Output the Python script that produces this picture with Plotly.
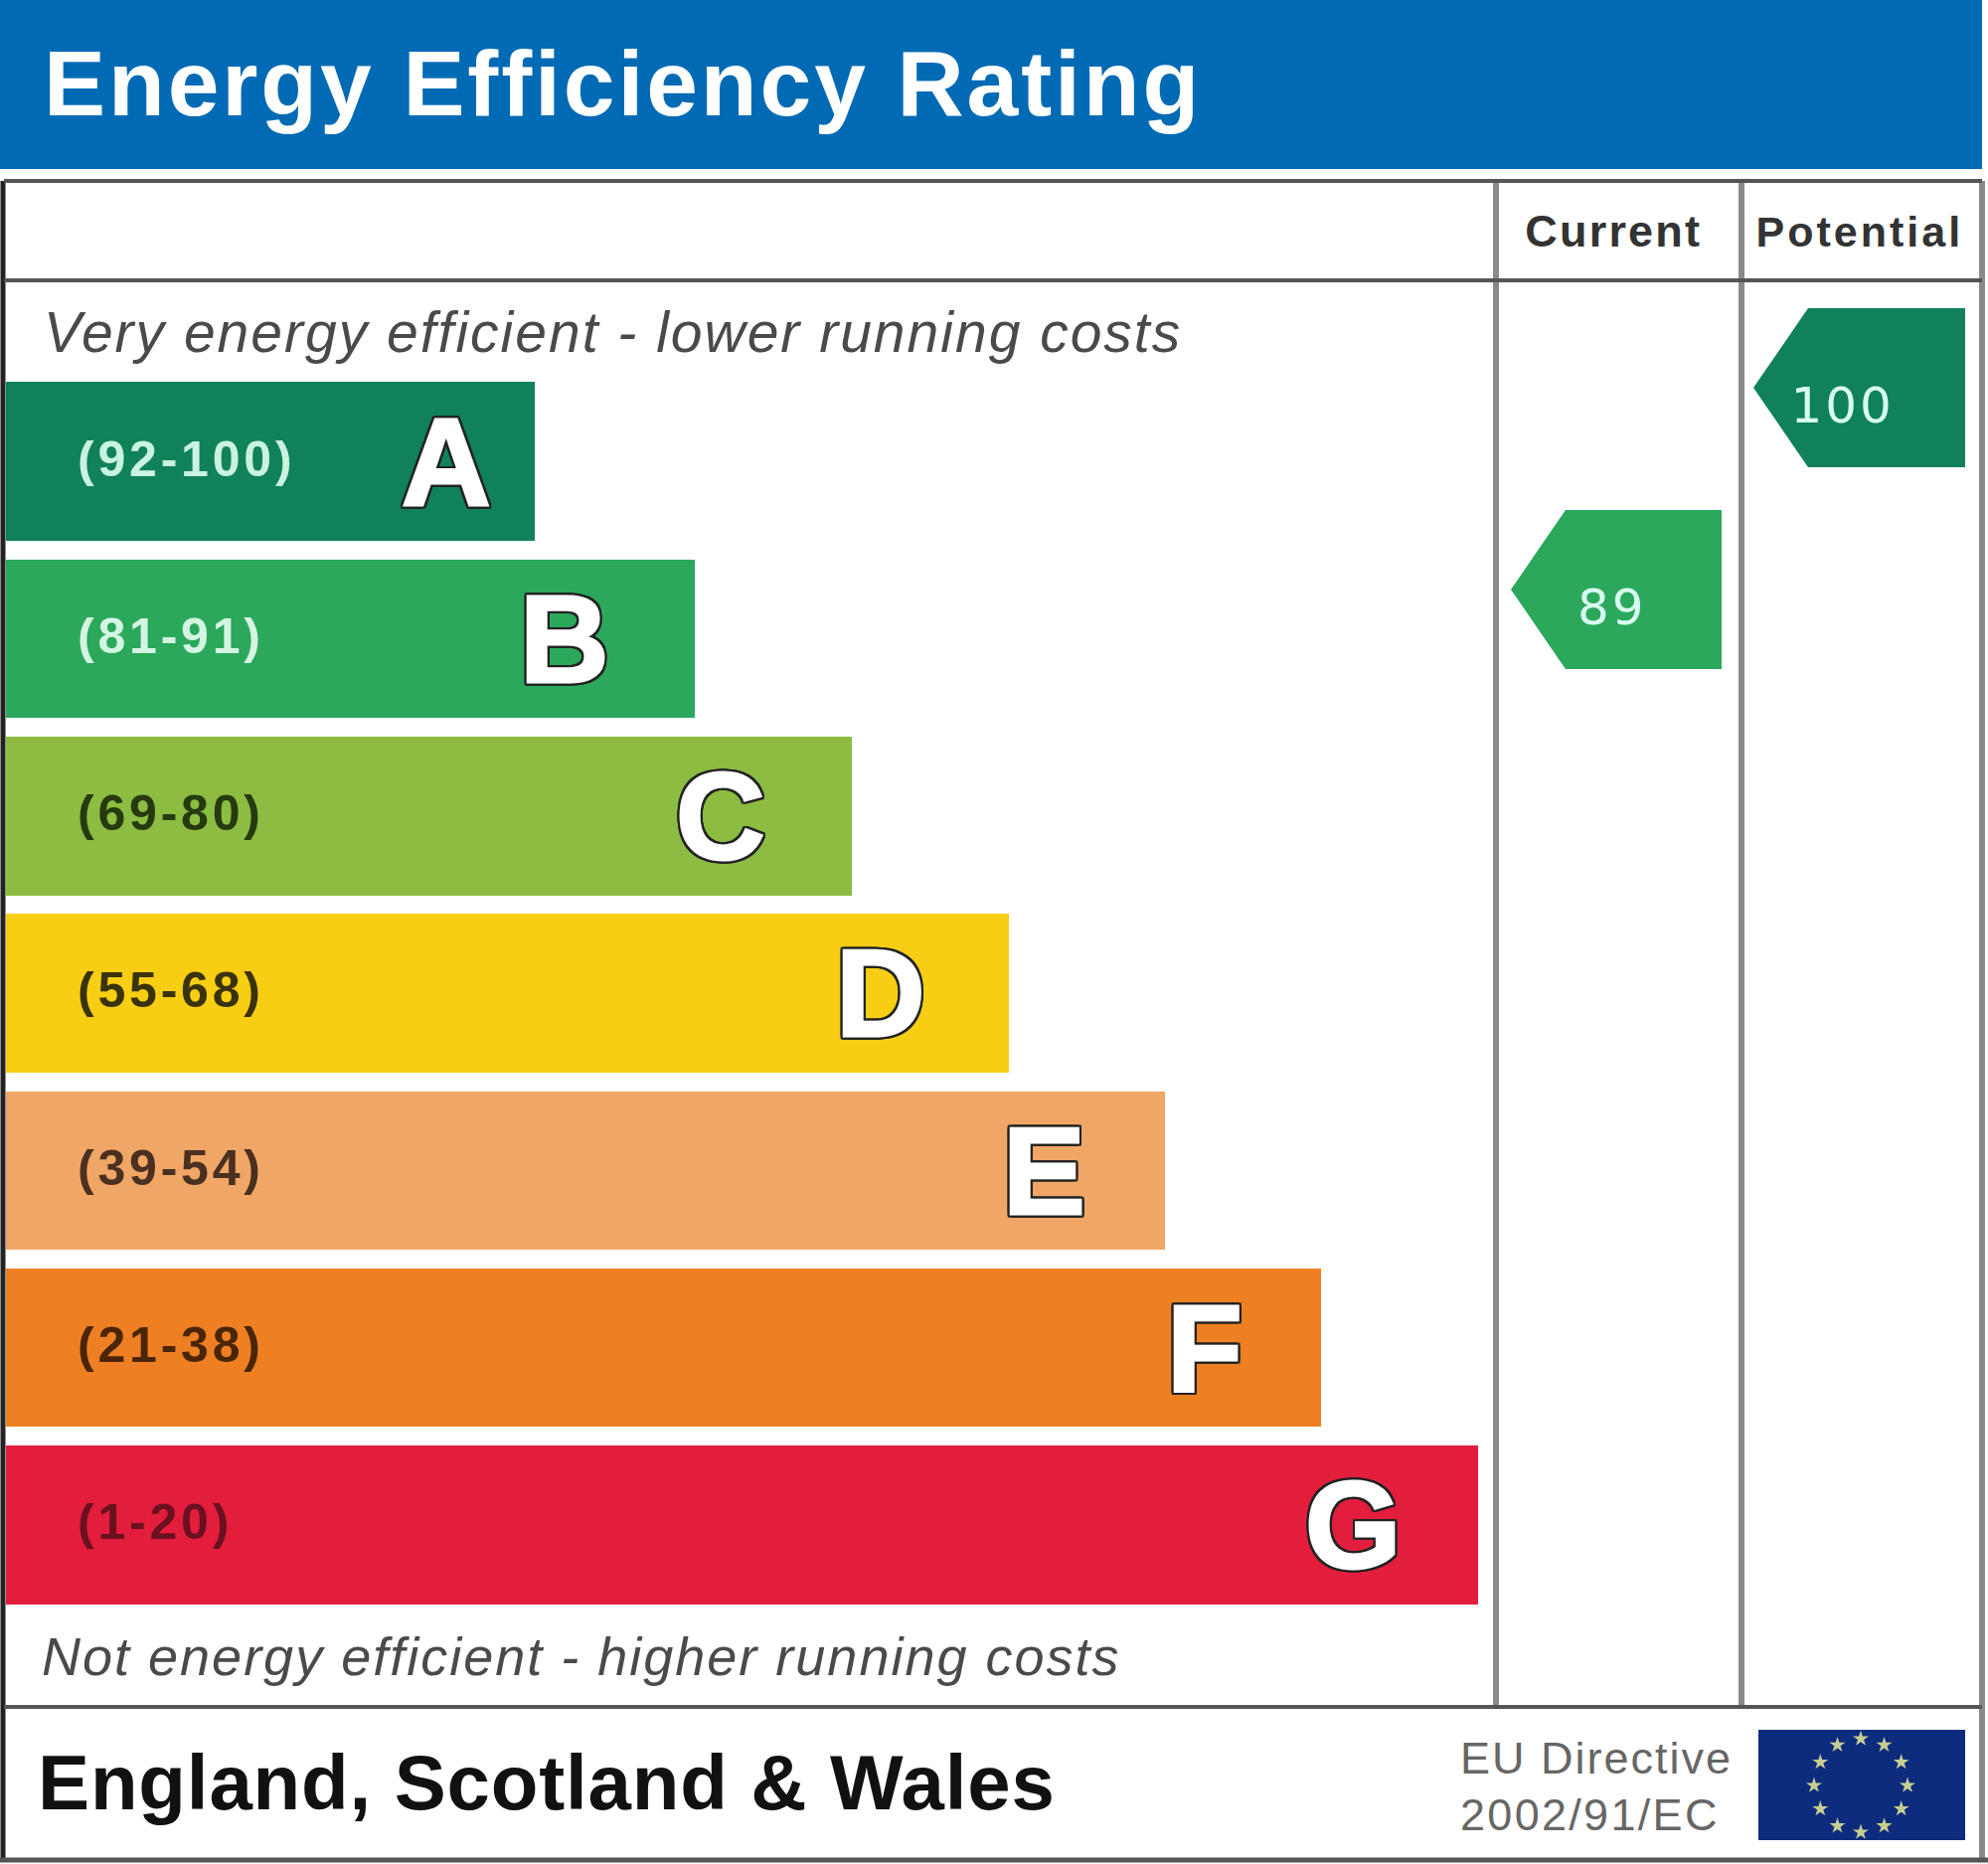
import json
import math
import plotly.graph_objects as go

W, H = 2000, 1875
FONT = "Liberation Sans"

bands = ["A", "B", "C", "D", "E", "F", "G"]
ranges = ["(92-100)", "(81-91)", "(69-80)", "(55-68)", "(39-54)", "(21-38)", "(1-20)"]
bar_lengths = [532, 693, 851, 1009, 1166, 1323, 1481]
bar_colors = ["#10815A", "#2BA85C", "#8CBC42", "#F7CE14", "#F0A666", "#EE8023", "#E21E3C"]
range_colors = ["#C9F2DF", "#D5F5E3", "#263A10", "#3A3208", "#4A3020", "#4A2508", "#6A1020"]
letter_x = [449, 568, 725, 886, 1050, 1212, 1361]

rating_names = ["Current", "Potential"]
rating_scores = [89, 100]
rating_colors = ["#2BA85C", "#10815A"]
rating_tip_x = [1520, 1764]
rating_right_x = [1732, 1977]
rating_text_x = [1622, 1853]

TITLE = "Energy Efficiency Rating"
TOP_NOTE = "Very energy efficient - lower running costs"
BOTTOM_NOTE = "Not energy efficient - higher running costs"
REGION = "England, Scotland & Wales"
DIRECTIVE = ["EU Directive", "2002/91/EC"]

PX_PER_POINT = 18.45
Y100 = 390.0


def px(y):
    return 1 - y / H


def score_at(y):
    return 100 - (y - Y100) / PX_PER_POINT


fig = go.Figure()

ROW_TOP, ROW_BOTTOM = 375.35, 1623.45
fig.add_trace(go.Bar(
    y=bands, x=bar_lengths, base=6, orientation="h", width=0.895,
    marker=dict(color=bar_colors, line=dict(width=0)),
    xaxis="x", yaxis="y", hoverinfo="skip", showlegend=False,
))

half_h = 80 / PX_PER_POINT
for name, score, col, tip, right in zip(rating_names, rating_scores, rating_colors, rating_tip_x, rating_right_x):
    base = tip + 55
    fig.add_trace(go.Scatter(
        x=[right, right, base, tip, base, right],
        y=[score + half_h, score - half_h, score - half_h, score, score + half_h, score + half_h],
        mode="lines", fill="toself", fillcolor=col, line=dict(width=0, color=col),
        xaxis="x", yaxis="y2", hoverinfo="skip", showlegend=False,
    ))

# EU flag stars
star_x = [1872 + 47 * math.sin(i * math.pi / 6) for i in range(12)]
star_y = [score_at(1796 - 47 * math.cos(i * math.pi / 6)) for i in range(12)]
fig.add_trace(go.Scatter(
    x=star_x, y=star_y, mode="markers", xaxis="x", yaxis="y2",
    marker=dict(symbol="star", size=12, color="#C8CF90", line=dict(width=0)),
    hoverinfo="skip", showlegend=False,
))

ann = []
spacing = {}


def text(s, x, y, size, color, anchor="left", bold=False, italic=False, ls=0):
    font = dict(family=FONT, size=size, color=color,
                weight="bold" if bold else "normal",
                style="italic" if italic else "normal")
    ann.append(dict(text=s.replace("&", "&amp;"), x=x, y=px(y), xref="x", yref="paper", xanchor=anchor,
                    yanchor="middle", align=anchor, showarrow=False, font=font))
    if ls:
        spacing[s] = ls


text(TITLE, 42, 84, 93, "#FFFFFF", bold=True, ls=2.9)
text("Current", 1623, 233, 45, "#333333", "center", bold=True, ls=2.2)
text("Potential", 1871, 233, 43, "#333333", "center", bold=True, ls=3)
text(TOP_NOTE, 42, 334, 57, "#4A4A4A", italic=True, ls=2)
text(BOTTOM_NOTE, 40, 1666, 54, "#4A4A4A", italic=True, ls=2)
text(REGION, 36, 1793, 78, "#111111", bold=True, ls=0.85)
text(DIRECTIVE[0], 1467, 1768, 45, "#666666", ls=2)
text(DIRECTIVE[1], 1467, 1825, 45, "#666666", ls=2.3)

for b, r, rc, lx in zip(bands, ranges, range_colors, letter_x):
    ann.append(dict(text=r, x=76, y=b, xref="x", yref="y", xanchor="left", yanchor="middle", align="left",
                    showarrow=False, yshift=3, font=dict(family=FONT, size=50, color=rc, weight="bold")))
    spacing[r] = 3.8
    ann.append(dict(text=b, x=lx, y=b, xref="x", yref="y", xanchor="center", yanchor="middle", showarrow=False,
                    font=dict(family=FONT, size=124, color="#FFFFFF", weight="bold")))

for score, tx in zip(rating_scores, rating_text_x):
    ann.append(dict(text=str(score), x=tx, y=score - 1.0, xref="x", yref="y2", xanchor="center", yanchor="middle",
                    showarrow=False, font=dict(family="DejaVu Sans", size=50, color="#D8FFF0")))
    spacing[str(score)] = 3

DARK = "#555555"
GREY = "#8A8A8A"
shapes = [
    dict(type="rect", xref="x", yref="paper", x0=0, x1=1994, y0=px(0), y1=px(170),
         fillcolor="#006AB4", line=dict(width=0), layer="below"),
    dict(type="rect", xref="x", yref="paper", x0=1769, x1=1977, y0=px(1740), y1=px(1851),
         fillcolor="#0D2C7E", line=dict(width=0), layer="below"),
]


def hline(y, color=DARK, w=4, x0=4, x1=1994):
    shapes.append(dict(type="line", xref="x", yref="paper", x0=x0, x1=x1, y0=px(y), y1=px(y),
                       line=dict(color=color, width=w), layer="below"))


def vline(x, y0, y1, color=GREY, w=6):
    shapes.append(dict(type="line", xref="x", yref="paper", x0=x, x1=x, y0=px(y0), y1=px(y1),
                       line=dict(color=color, width=w), layer="below"))


vline(1505, 182, 1717)
vline(1752, 182, 1717)
vline(1994, 182, 1873)
vline(3, 182, 1873, "#222222", 5)
hline(182)
hline(282)
hline(1717)
hline(1871, w=5, x0=0, x1=W)

fig.update_layout(
    width=W, height=H, margin=dict(l=0, r=0, t=0, b=0), autosize=False,
    paper_bgcolor="#FFFFFF", plot_bgcolor="rgba(0,0,0,0)",
    xaxis=dict(range=[0, W], domain=[0, 1], visible=False, fixedrange=True),
    yaxis=dict(domain=[px(ROW_BOTTOM), px(ROW_TOP)], categoryorder="array", categoryarray=bands,
               range=[6.5, -0.5], visible=False, fixedrange=True, anchor="x"),
    yaxis2=dict(domain=[0, 1], range=[score_at(H), score_at(0)], visible=False, fixedrange=True, anchor="x"),
    annotations=ann, shapes=shapes, showlegend=False, bargap=0,
)

post = (
    "document.body.style.margin='0';document.documentElement.style.overflow='hidden';"
    "var sp=" + json.dumps(spacing) + ";"
    "document.querySelectorAll('.annotation-text').forEach(function(t){"
    "var s=t.textContent;"
    "if(sp[s]){t.style.letterSpacing=sp[s]+'px';}"
    "else if(s.length===1){t.style.stroke='#FFFFFF';t.style.strokeWidth='3px';"
    "t.style.filter='drop-shadow(2px 0 0 #222) drop-shadow(-2px 0 0 #222) drop-shadow(0 2px 0 #222) drop-shadow(0 -2px 0 #222)';}"
    "});"
)
fig.write_html("out.html", config=dict(displayModeBar=False), post_script=post)
